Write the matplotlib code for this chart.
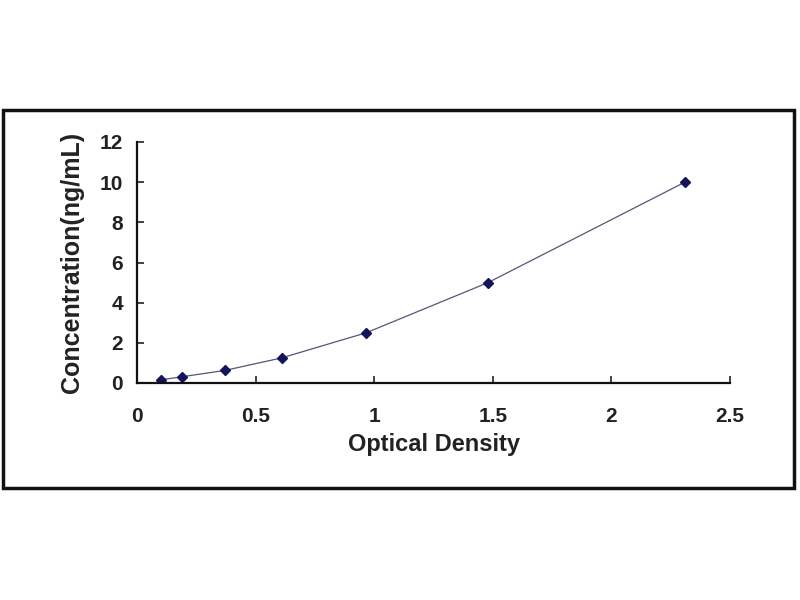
import matplotlib.pyplot as plt
from matplotlib.patches import Rectangle

# Standard curve points
od = [0.10, 0.19, 0.37, 0.61, 0.966, 1.48, 2.31]
conc = [0.156, 0.312, 0.625, 1.25, 2.5, 5.0, 10.0]

xticks = [0, 0.5, 1, 1.5, 2, 2.5]
xticklabels = ['0', '0.5', '1', '1.5', '2', '2.5']
yticks = [0, 2, 4, 6, 8, 10, 12]

plt.rcParams['font.family'] = ['Liberation Sans', 'DejaVu Sans']
plt.rcParams['font.weight'] = 'bold'

fig = plt.figure(figsize=(8, 6), dpi=100)
ax = fig.add_axes([137 / 800, 1 - 383 / 600, 593 / 800, 241 / 600])

# outer frame of the picture
fig.patches.append(Rectangle((3 / 800, 1 - 488 / 600), 791 / 800, 378 / 600,
                             transform=fig.transFigure, fill=False,
                             edgecolor='#111111', linewidth=2.5))

ax.plot(od, conc, color='#55557a', linewidth=0.9,
        marker='D', markersize=5, markerfacecolor='#14145a',
        markeredgecolor='#14145a')

ax.set_xlim(0, 2.5)
ax.set_ylim(0, 12)
ax.set_xticks(xticks)
ax.set_xticklabels(xticklabels)
ax.set_yticks(yticks)

for side in ['top', 'right']:
    ax.spines[side].set_visible(False)
for side in ['left', 'bottom']:
    ax.spines[side].set_linewidth(1.6)
    ax.spines[side].set_color('#111111')

ax.tick_params(axis='both', direction='in', length=5, width=1.2,
               labelsize=15, colors='#222222')
ax.tick_params(axis='x', pad=17)
ax.tick_params(axis='y', pad=10)

ax.set_xlabel('Optical Density', fontsize=17, fontweight='bold', va='center',
              color='#222222')
ax.xaxis.set_label_coords(0.5, -0.257)
ax.set_ylabel('Concentration(ng/mL)', fontsize=18, fontweight='bold', va='center',
              color='#222222')
ax.yaxis.set_label_coords(-0.11, 0.5)

fig.savefig('out.png', dpi=100)
